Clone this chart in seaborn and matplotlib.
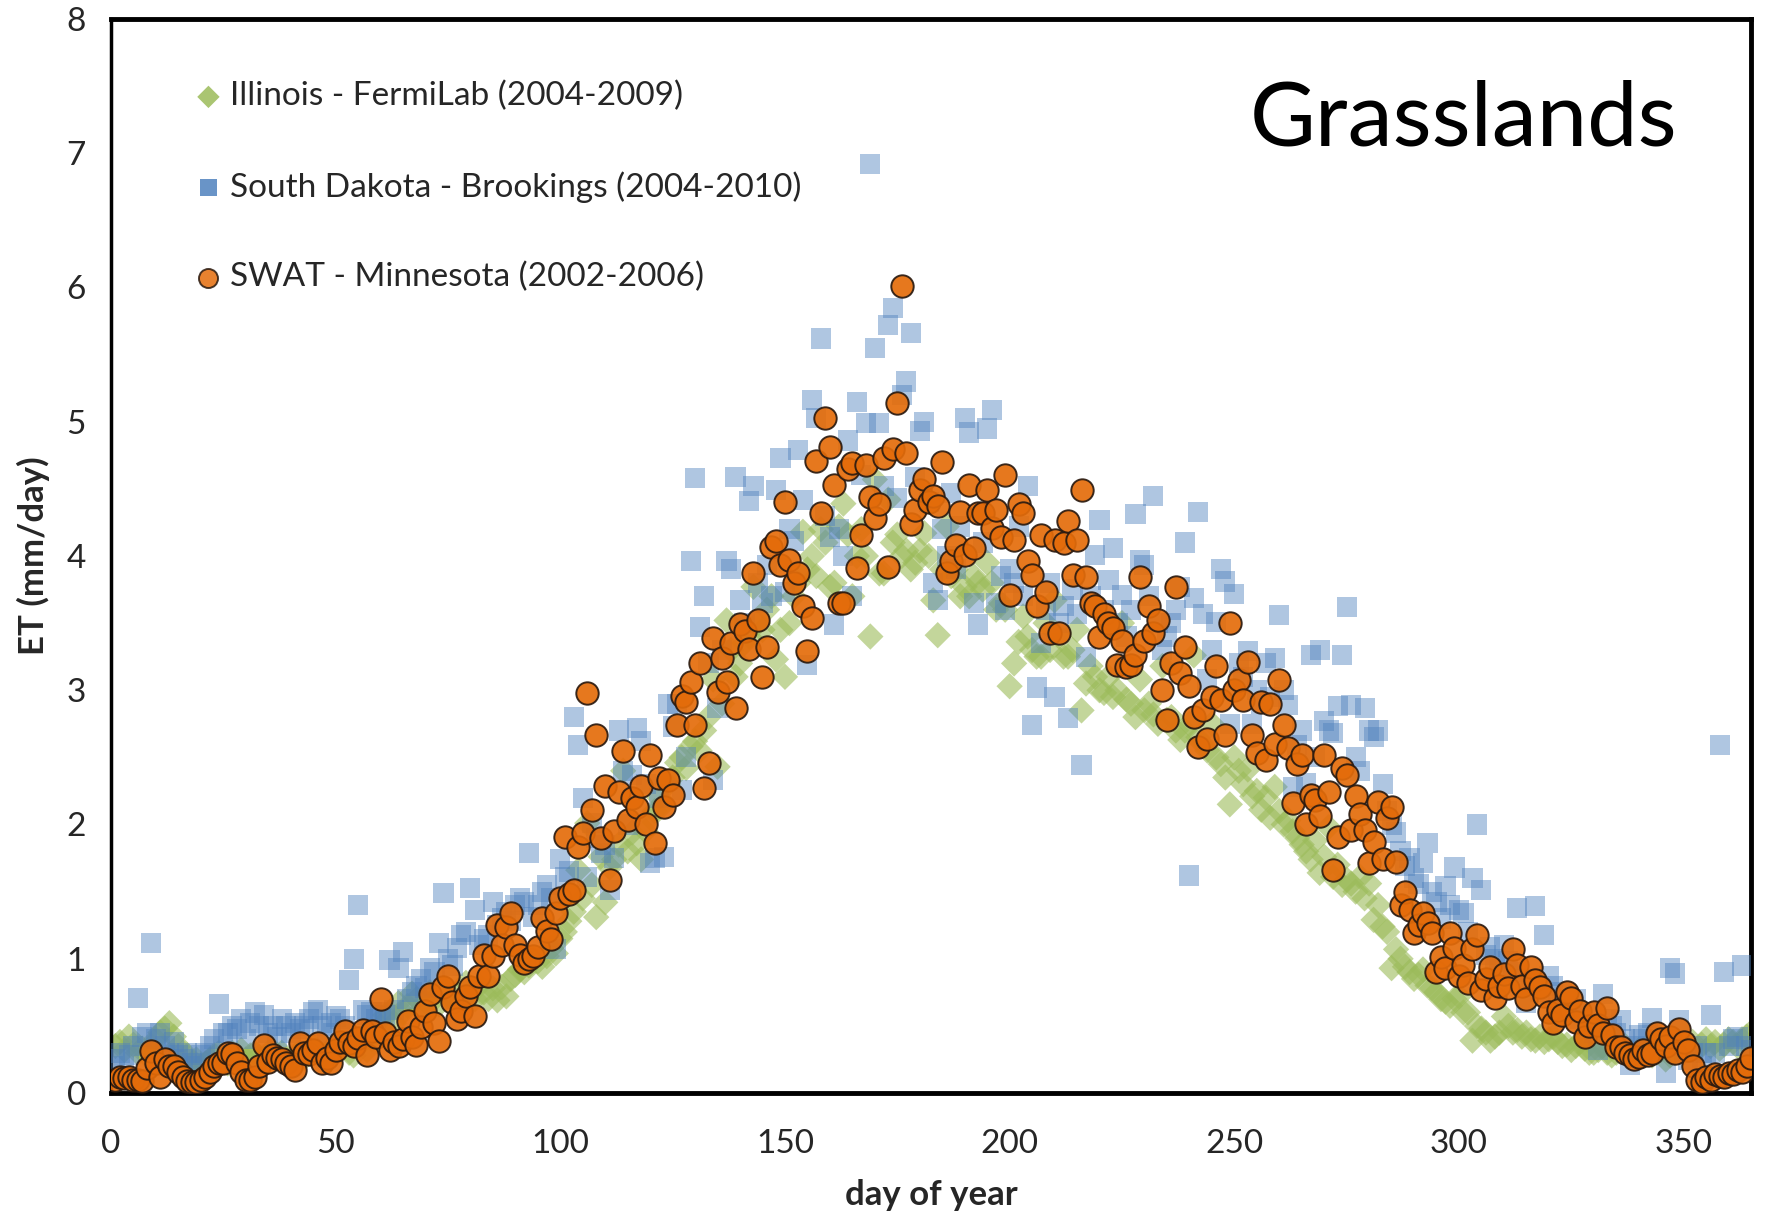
import numpy as np
import pandas as pd
import matplotlib
matplotlib.use("Agg")
import matplotlib.pyplot as plt
import seaborn as sns

days = list(range(1, 366))

illinois = [
0.35,0.38,0.32,0.42,0.36,0.30,0.33,0.28,0.35,0.40,
0.45,0.48,0.52,0.42,0.35,0.30,0.28,0.22,0.25,0.20,
0.22,0.25,0.28,0.30,0.26,0.22,0.30,0.28,0.32,0.25,
0.28,0.30,0.27,0.25,0.30,0.32,0.28,0.30,0.25,0.22,
0.28,0.30,0.26,0.32,0.35,0.30,0.28,0.30,0.33,0.30,
0.32,0.35,0.30,0.28,0.35,0.38,0.32,0.40,0.45,0.50,
0.58,0.60,0.52,0.67,0.60,0.65,0.74,0.70,0.62,0.68,
0.75,0.70,0.66,0.78,0.72,0.70,0.74,0.68,0.82,0.75,
0.70,0.80,0.75,0.70,0.78,0.69,0.79,0.72,0.85,0.88,
0.92,0.90,0.95,1.00,0.98,0.94,1.02,1.08,1.04,1.15,
1.20,1.28,1.35,1.66,1.45,2.01,1.55,1.31,1.76,1.42,
1.68,1.74,1.85,2.40,1.80,1.94,1.86,1.74,1.95,2.05,
2.10,2.20,2.15,2.30,2.35,2.46,2.50,2.42,2.58,2.62,
2.55,2.70,2.80,3.08,2.43,2.90,3.52,3.30,3.10,3.20,
3.35,3.40,3.77,3.50,3.45,3.60,3.70,3.23,3.45,3.10,
3.50,3.70,3.80,4.18,3.90,4.00,3.85,4.20,4.10,3.77,
3.80,4.22,4.39,4.16,3.70,4.00,4.20,4.00,3.40,4.57,
3.87,3.87,4.42,4.10,4.16,4.00,4.04,3.90,3.95,4.04,
4.17,4.00,3.67,3.41,3.90,4.22,3.85,3.90,3.70,3.77,
3.70,3.85,3.80,3.75,3.95,3.80,3.60,3.65,3.60,3.03,
3.20,3.36,3.55,3.40,3.30,3.25,3.25,3.50,3.30,3.67,
3.40,3.25,3.25,3.30,3.45,2.85,3.05,3.18,3.10,3.00,
2.98,3.10,2.95,3.00,3.50,2.93,2.90,2.80,3.08,2.85,
2.90,2.82,2.75,3.18,2.78,2.80,2.70,2.63,2.70,2.75,
3.26,2.65,2.60,2.55,2.75,2.50,2.45,2.35,2.15,2.50,
2.40,2.30,2.41,2.21,2.25,2.11,2.20,2.05,2.28,2.10,
2.00,2.03,1.95,1.90,1.85,1.80,1.74,1.88,1.64,1.76,
1.98,1.61,1.70,1.55,1.59,1.56,1.50,1.61,1.45,1.56,
1.29,1.40,1.24,1.20,0.93,1.07,1.00,0.94,0.90,0.85,
0.88,0.92,0.80,0.78,0.75,0.70,0.68,0.65,0.70,0.72,
0.60,0.60,0.39,0.50,0.48,0.45,0.39,0.42,0.45,0.57,
0.50,0.45,0.47,0.42,0.45,0.40,0.39,0.42,0.38,0.40,
0.42,0.38,0.35,0.36,0.32,0.35,0.38,0.33,0.30,0.30,
0.32,0.35,0.30,0.28,0.30,0.33,0.35,0.30,0.28,0.32,
0.30,0.35,0.28,0.30,0.32,0.25,0.28,0.30,0.33,0.30,
0.35,0.38,0.32,0.36,0.40,0.35,0.38,0.33,0.36,0.40,
0.38,0.35,0.40,0.42,0.45]

south_dakota = [
0.25,0.30,0.20,0.28,0.35,0.71,0.42,0.45,1.12,0.40,
0.45,0.35,0.30,0.38,0.28,0.25,0.30,0.22,0.20,0.28,
0.30,0.35,0.40,0.66,0.45,0.45,0.50,0.48,0.55,0.40,
0.52,0.60,0.50,0.58,0.45,0.50,0.42,0.55,0.50,0.45,
0.52,0.48,0.50,0.55,0.60,0.62,0.50,0.45,0.52,0.57,
0.55,0.50,0.84,1.00,1.40,0.62,0.58,0.60,0.55,0.60,
0.58,0.99,0.62,0.93,1.05,0.70,0.75,0.80,0.85,0.78,
0.93,0.90,1.12,1.49,1.00,0.95,1.08,1.18,1.20,1.53,
1.36,1.10,1.15,1.18,1.42,1.25,1.30,1.35,1.28,1.40,
1.45,1.42,1.79,1.31,1.40,1.50,1.55,1.45,1.07,1.74,
1.61,1.65,2.80,2.59,2.20,1.61,2.01,1.90,1.79,1.85,
1.51,1.75,2.70,2.40,2.00,2.37,2.72,2.62,2.30,1.71,
1.75,2.20,1.76,2.90,2.73,2.90,2.26,2.50,3.96,4.58,
3.47,3.70,3.20,2.33,2.87,3.30,3.96,3.90,4.59,3.67,
3.50,4.41,4.52,3.80,3.65,3.93,3.70,4.49,4.73,3.73,
4.20,4.11,4.79,4.42,3.19,5.16,5.03,5.62,4.30,4.14,
3.49,4.20,4.00,4.86,3.70,5.15,4.60,4.99,6.92,5.55,
4.99,4.52,5.72,5.85,4.43,5.20,5.30,5.66,4.59,4.93,
5.00,4.40,3.80,3.67,4.20,4.00,4.47,3.90,4.22,5.03,
4.92,3.65,3.49,4.10,4.95,5.09,3.65,3.85,3.60,3.90,
3.80,4.22,3.70,4.52,2.74,3.02,3.35,3.60,3.80,2.95,
3.50,3.63,2.79,3.75,3.57,2.44,3.25,3.70,4.01,4.27,
3.60,3.82,4.06,3.50,3.71,3.40,3.60,4.31,3.97,3.93,
3.70,4.45,3.50,3.30,3.40,3.50,3.60,3.77,4.10,1.62,
3.69,4.33,3.57,3.08,3.30,3.51,3.90,3.81,2.75,3.72,
3.20,3.10,3.29,2.75,3.00,2.90,3.20,2.95,3.24,3.56,
3.00,2.89,2.28,2.59,2.70,2.31,3.26,2.50,3.30,2.77,
2.70,2.68,2.88,3.26,3.62,2.89,2.50,2.40,2.87,2.70,
2.65,2.70,2.30,2.10,2.00,1.94,1.80,1.69,1.75,1.60,
1.56,1.71,1.86,1.50,1.42,1.30,1.54,1.40,1.68,1.36,
1.34,1.20,1.60,2.00,1.51,1.03,1.09,1.00,0.95,1.10,
0.98,0.90,1.38,0.85,0.67,0.80,1.39,0.75,1.18,0.87,
0.80,0.70,0.75,0.65,0.60,0.70,0.55,0.60,0.50,0.45,
0.32,0.74,0.55,0.50,0.45,0.54,0.40,0.21,0.35,0.43,
0.40,0.45,0.56,0.35,0.30,0.15,0.93,0.89,0.54,0.30,
0.25,0.30,0.35,0.20,0.30,0.58,0.30,2.59,0.90,0.35,
0.40,0.42,0.95,0.35,0.32]

swat = [
0.10,0.12,0.11,0.12,0.10,0.10,0.09,0.19,0.31,0.22,
0.12,0.25,0.20,0.20,0.16,0.12,0.09,0.08,0.08,0.10,
0.12,0.16,0.20,0.22,0.22,0.30,0.29,0.22,0.16,0.10,
0.10,0.12,0.20,0.36,0.23,0.28,0.26,0.25,0.22,0.20,
0.17,0.37,0.30,0.29,0.32,0.37,0.22,0.26,0.22,0.32,
0.38,0.46,0.37,0.35,0.41,0.47,0.28,0.46,0.42,0.70,
0.45,0.32,0.38,0.35,0.40,0.54,0.42,0.36,0.49,0.61,
0.74,0.52,0.39,0.79,0.87,0.68,0.55,0.61,0.72,0.79,
0.57,0.87,1.03,0.87,1.02,1.25,1.10,1.24,1.34,1.10,
1.03,0.97,1.00,1.02,1.09,1.30,1.21,1.15,1.34,1.45,
1.91,1.48,1.51,1.83,1.94,2.98,2.11,2.67,1.90,2.29,
1.59,1.95,2.24,2.55,2.03,2.20,2.13,2.29,2.00,2.52,
1.86,2.35,2.13,2.33,2.22,2.74,2.96,2.91,3.06,2.74,
3.20,2.27,2.46,3.39,2.99,3.24,3.06,3.35,2.87,3.49,
3.44,3.31,3.87,3.52,3.10,3.32,4.07,4.11,3.93,4.40,
3.97,3.80,3.87,3.63,3.29,3.54,4.71,4.32,5.03,4.81,
4.53,3.65,3.65,4.65,4.69,3.91,4.16,4.68,4.44,4.28,
4.39,4.73,3.92,4.80,5.14,6.01,4.77,4.24,4.34,4.49,
4.57,4.40,4.45,4.37,4.70,3.87,3.96,4.08,4.33,4.01,
4.53,4.06,4.32,4.32,4.49,4.21,4.34,4.14,4.60,3.71,
4.12,4.39,4.32,3.96,3.86,3.63,4.16,3.73,3.43,4.12,
3.43,4.10,4.26,3.86,4.12,4.49,3.84,3.65,3.63,3.40,
3.57,3.50,3.46,3.19,3.37,3.17,3.19,3.26,3.84,3.37,
3.63,3.43,3.52,3.00,2.78,3.20,3.77,3.13,3.32,3.03,
2.80,2.58,2.85,2.64,2.95,3.18,2.93,2.67,3.50,3.00,
3.08,2.93,3.21,2.67,2.53,2.91,2.48,2.90,2.60,3.08,
2.74,2.57,2.16,2.45,2.52,2.00,2.22,2.18,2.06,2.52,
2.24,1.66,1.91,2.42,2.37,1.96,2.21,2.08,1.96,1.71,
1.87,2.17,1.74,2.05,2.13,1.72,1.40,1.50,1.36,1.19,
1.25,1.34,1.27,1.19,0.90,1.01,0.93,1.19,1.08,0.87,
0.95,0.82,1.07,1.18,0.77,0.85,0.94,0.71,0.80,0.89,
0.78,1.07,0.95,0.80,0.70,0.94,0.84,0.79,0.72,0.60,
0.52,0.62,0.58,0.75,0.71,0.53,0.61,0.42,0.50,0.60,
0.51,0.45,0.63,0.43,0.34,0.34,0.30,0.28,0.25,0.27,
0.32,0.28,0.30,0.45,0.40,0.35,0.42,0.30,0.48,0.38,
0.32,0.20,0.10,0.08,0.12,0.10,0.14,0.13,0.12,0.15,
0.14,0.17,0.16,0.20,0.26]

labels = ["Illinois - FermiLab (2004-2009)",
          "South Dakota - Brookings (2004-2010)",
          "SWAT - Minnesota (2002-2006)"]
x_ticks = [0, 50, 100, 150, 200, 250, 300, 350]
y_ticks = [0, 1, 2, 3, 4, 5, 6, 7, 8]

sns.set_theme(style="white")
plt.rcParams['font.family'] = ['Lato', 'DejaVu Sans']

fig = plt.figure(figsize=(17.75, 12.15), dpi=100)
ax = fig.add_axes([0.0625, 0.1004, 0.924, 0.884])

sns.scatterplot(x=days, y=illinois, marker='D', s=180, color='#9BBB59',
                alpha=0.6, edgecolor='none', linewidth=0, ax=ax, label=labels[0], zorder=2)
sns.scatterplot(x=days, y=south_dakota, marker='s', s=210, color='#4F81BD',
                alpha=0.45, edgecolor='none', linewidth=0, ax=ax, label=labels[1], zorder=3)
sns.scatterplot(x=days, y=swat, marker='o', s=260, color='#E46C0A',
                alpha=0.92, edgecolor='#2a1a10', linewidth=1.4, ax=ax, label=labels[2], zorder=4)

ax.set_xlim(0, 365)
ax.set_ylim(0, 8)
ax.set_xticks(x_ticks)
ax.set_yticks(y_ticks)
ax.tick_params(axis='both', direction='in', length=9, width=1.5, color='#808080',
               labelsize=24, pad=14)
ax.tick_params(axis='x', pad=26)
ax.tick_params(axis='y', pad=18)
for side in ['top', 'right', 'bottom']:
    ax.spines[side].set_color('black')
    ax.spines[side].set_linewidth(3.5)
ax.spines['left'].set_color('black')
ax.spines['left'].set_linewidth(2.5)

ax.set_xlabel('day of year', fontsize=25, fontweight='bold', labelpad=14)
ax.set_ylabel('ET (mm/day)', fontsize=25, fontweight='bold', labelpad=12)

ax.text(0.955, 0.905, 'Grasslands', transform=ax.transAxes, ha='right', va='center',
        fontsize=65, color='black')

leg = ax.legend(loc='upper left', bbox_to_anchor=(0.031, 0.97), frameon=False,
                fontsize=24, labelspacing=1.78, handletextpad=0.15, markerscale=0.85,
                handlelength=1.0)
for h in leg.legend_handles:
    h.set_alpha(0.85)

fig.savefig('out.png', dpi=100)
